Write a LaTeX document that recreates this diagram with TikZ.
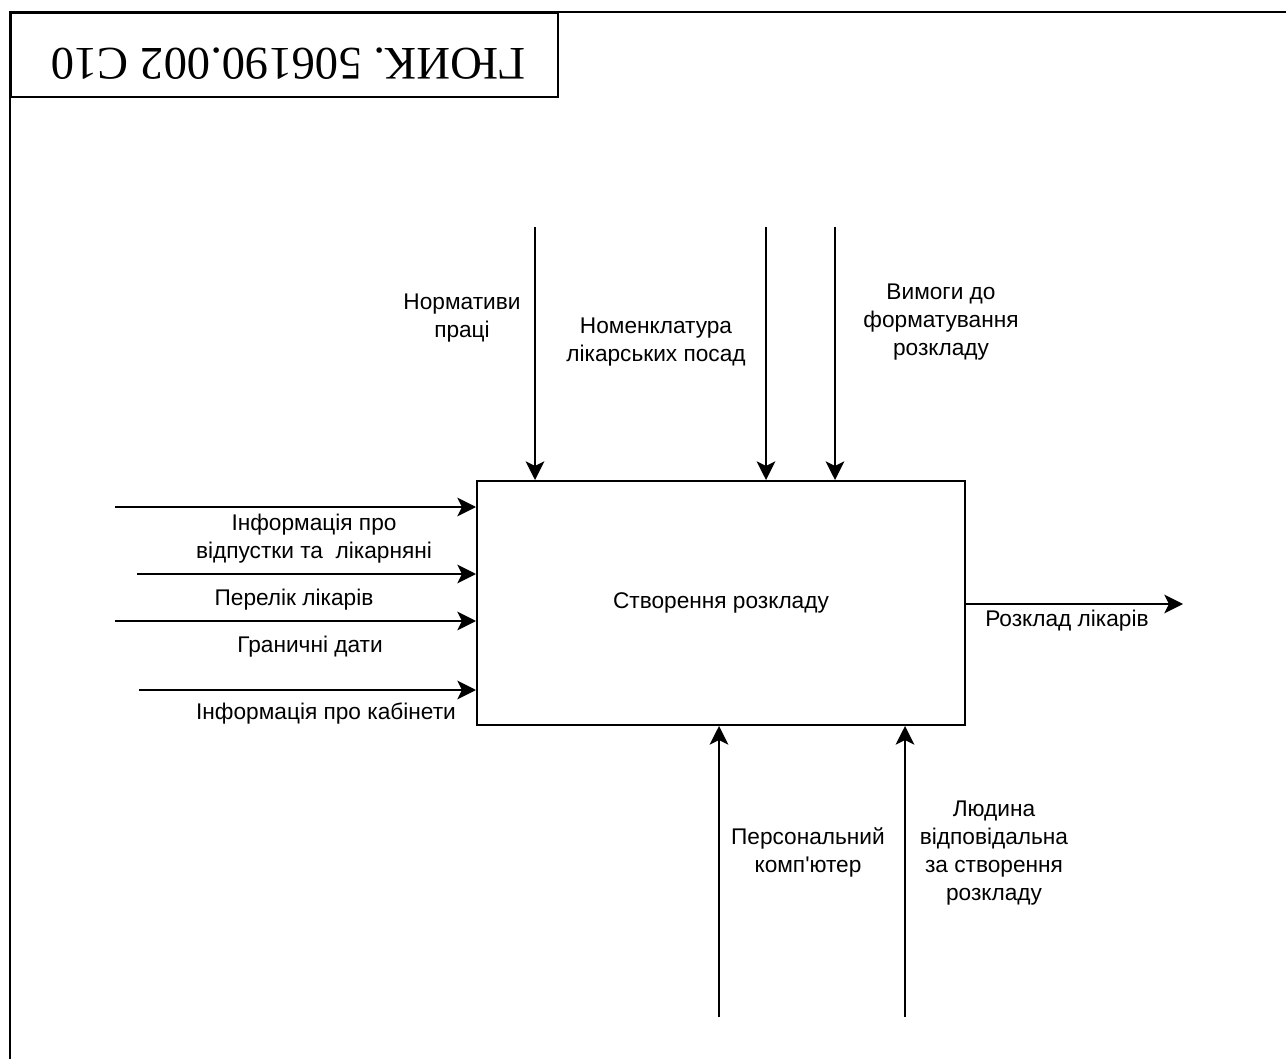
\documentclass[tikz,border=0pt]{standalone}
\usepackage{fontspec}
\setmainfont{Liberation Sans}[Ligatures=TeXOff]
\newfontfamily\titlefont{Liberation Serif}
\usetikzlibrary{arrows.meta}
\begin{document}
\begin{tikzpicture}[x=0.75pt,y=-0.75pt,
  lbl/.style={font=\fontsize{17}{21}\selectfont, align=center, inner sep=0pt},
  arr/.style={line width=1.5pt, -{Stealth[length=14pt,width=14pt,inset=3.5pt]}},
  proc/.style={draw, line width=1.5pt, minimum width=366pt, minimum height=183pt, inner sep=0pt, font=\fontsize{17}{21}\selectfont}
]
\useasboundingbox (0,0) rectangle (1286,1059);
% frame
\coordinate (fbl) at (10,1059);
\coordinate (ftl) at (10,12);
\coordinate (ftr) at (1286,12);
\draw[line width=2.2pt] (fbl) -- (ftl) -- (ftr);
\node[draw, line width=1.5pt, anchor=north west, minimum width=410.25pt, minimum height=63pt, inner sep=0pt] (title) at (10,12) {};
\node[rotate=180, font=\titlefont\fontsize{35}{40}\selectfont, inner sep=0pt] (titletext) at (288,64) {ГЮИК. 506190.002 С10};
% process
\node[proc] (box) at (721,603) {Створення розкладу};
% inputs
\coordinate (i1) at (115,507);
\coordinate (i2) at (137,574);
\coordinate (i3) at (115,621);
\coordinate (i4) at (139,690);
\foreach \c in {i1,i2,i3,i4} \draw[arr] (\c) -- (\c -| box.west);
\node[lbl] (l1) at (314,539) {Інформація про\\відпустки та\ \ лікарняні};
\node[lbl] (l2) at (294,600) {Перелік лікарів};
\node[lbl] (l3) at (310,647) {Граничні дати};
\node[lbl] (l4) at (326,714) {Інформація про кабінети};
% controls
\coordinate (c1) at (535,227);
\coordinate (c2) at (766,227);
\coordinate (c3) at (835,227);
\foreach \c in {c1,c2,c3} \draw[arr] (\c) -- (\c |- box.north);
\node[lbl] (t1) at (462,318) {Нормативи\\праці};
\node[lbl] (t2) at (656,342) {Номенклатура\\лікарських посад};
\node[lbl] (t3) at (941,322) {Вимоги до\\форматування\\розкладу};
% output
\coordinate (o1) at (1183,604);
\draw[arr] (box.east |- o1) -- (o1);
\node[lbl] (ol) at (1067,621) {Розклад лікарів};
% mechanisms
\coordinate (m1) at (719,1017);
\coordinate (m2) at (905,1017);
\foreach \c in {m1,m2} \draw[arr] (\c) -- (\c |- box.south);
\node[lbl] (b1) at (808,852) {Персональний\\комп'ютер};
\node[lbl] (b2) at (994,853) {Людина\\відповідальна\\за створення\\розкладу};
\end{tikzpicture}
\end{document}
